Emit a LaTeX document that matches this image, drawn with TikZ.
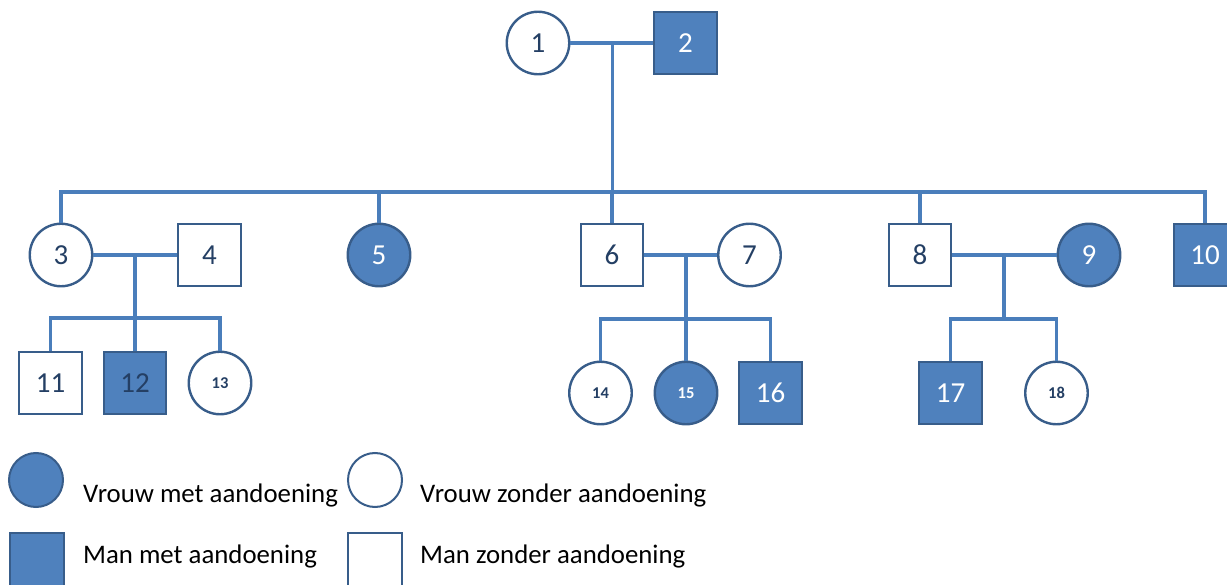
\documentclass[tikz,border=0pt]{standalone}
\usepackage{fontspec}
\setmainfont{Carlito}
\definecolor{fillblue}{RGB}{79,129,189}
\definecolor{outl}{RGB}{56,93,138}
\definecolor{linkblue}{RGB}{74,126,187}
\definecolor{txtdark}{RGB}{36,63,100}
\begin{document}
\begin{tikzpicture}[x=1pt,y=-1pt,
  person/.style={draw=outl,line width=2.4pt,inner sep=0pt,text=txtdark,font=\fontsize{29}{29}\selectfont},
  fem/.style={person,circle,minimum size=62.5pt,fill=white},
  mal/.style={person,rectangle,minimum size=62.5pt,fill=white},
  aff/.style={fill=fillblue,text=white},
  small/.style={font=\fontsize{16.5}{16.5}\selectfont\bfseries},
  link/.style={draw=linkblue,line width=3.8pt,line join=miter},
  legsym/.style={draw=outl,line width=2pt,inner sep=0pt},
  legtxt/.style={anchor=base west,inner sep=0pt,font=\fontsize{26.8}{26.8}\selectfont,text=black}]
\useasboundingbox (0,0) rectangle (1227,585);
% generation I
\node[fem] (n1) at (538,43) {1};
\node[mal,aff] (n2) at (685.5,43) {2};
% generation II
\node[fem] (n3) at (61,255) {3};
\node[mal] (n4) at (209.5,255) {4};
\node[fem,aff] (n5) at (379,255) {5};
\node[mal] (n6) at (612,255) {6};
\node[fem] (n7) at (749.5,255) {7};
\node[mal] (n8) at (920,255) {8};
\node[fem,aff] (n9) at (1089,255) {9};
\node[mal,aff] (n10) at (1205,255) {10};
% generation III
\node[mal] (n11) at (50.5,383) {11};
\node[mal,aff,text=txtdark] (n12) at (135,383) {12};
\node[fem,small] (n13) at (220,383) {13};
\node[fem,small] (n14) at (600.5,393) {14};
\node[fem,aff,small] (n15) at (686,393) {15};
\node[mal,aff] (n16) at (770.5,393) {16};
\node[mal,aff] (n17) at (950.5,393) {17};
\node[fem,small] (n18) at (1056.5,393) {18};
% junction coordinates
\coordinate (m12) at (612.5,43);
\coordinate (s12) at (612.5,192);
\coordinate (m34) at (135,255);
\coordinate (s34) at (135,318);
\coordinate (m67) at (686,255);
\coordinate (s67) at (686,319);
\coordinate (m89) at (1004,255);
\coordinate (s89) at (1004,319);
% connectors
\draw[link] (n1) -- (n2);
\draw[link] (m12) -- (s12);
\draw[link] (n3.north) -- (n3.north |- s12) -- (n10.north |- s12) -- (n10.north);
\draw[link] (n5.north |- s12) -- (n5.north);
\draw[link] (n6.north |- s12) -- (n6.north);
\draw[link] (n8.north |- s12) -- (n8.north);
\draw[link] (n3) -- (n4);
\draw[link] (m34) -- (s34);
\draw[link] (n11.north) -- (n11.north |- s34) -- (n13.north |- s34) -- (n13.north);
\draw[link] (s34) -- (n12.north);
\draw[link] (n6) -- (n7);
\draw[link] (m67) -- (s67);
\draw[link] (n14.north) -- (n14.north |- s67) -- (n16.north |- s67) -- (n16.north);
\draw[link] (s67) -- (n15.north);
\draw[link] (n8) -- (n9);
\draw[link] (m89) -- (s89);
\draw[link] (n17.north) -- (n17.north |- s89) -- (n18.north |- s89) -- (n18.north);
% legend
\node[legsym,circle,fill=fillblue,minimum size=54pt] (lfa) at (36,480) {};
\node[legtxt] (lfat) at (83,502) {Vrouw met aandoening};
\node[legsym,circle,fill=white,minimum size=54pt] (lfu) at (375,480) {};
\node[legtxt] (lfut) at (420,502) {Vrouw zonder aandoening};
\node[legsym,rectangle,fill=fillblue,minimum size=54pt] (lma) at (37,560) {};
\node[legtxt] (lmat) at (83,563) {Man met aandoening};
\node[legsym,rectangle,fill=white,minimum size=54pt] (lmu) at (375,560) {};
\node[legtxt] (lmut) at (420,563) {Man zonder aandoening};
\end{tikzpicture}
\end{document}
